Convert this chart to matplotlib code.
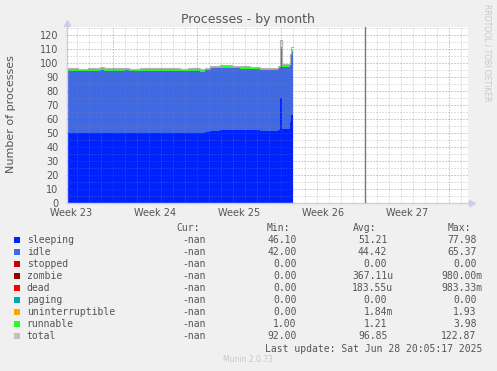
import matplotlib
matplotlib.use("Agg")
import matplotlib.pyplot as plt
from matplotlib.patches import Rectangle

# ---------------- data (x in days from left edge of graph) ----------------
days = [0.00, 0.50, 0.92, 1.75, 2.75, 3.08, 4.00, 4.83, 5.17, 6.08, 6.92, 7.42,
        8.58, 9.42, 10.08, 10.58, 11.08, 11.50, 11.92, 12.75, 13.75, 14.42,
        15.25, 16.08, 16.92, 17.58, 17.75, 17.92, 18.58, 18.67]
end_day = 18.83
sleeping = [49.8, 50.0, 49.8, 49.9, 50.1, 49.8, 49.9, 50.0, 49.8, 49.9, 49.8, 49.9,
            49.8, 50.0, 49.9, 49.8, 49.8, 51.0, 51.2, 52.1, 52.3, 52.0,
            52.0, 51.8, 51.2, 52.0, 75.0, 53.0, 58.0, 63.0]
idle = [44.7, 44.8, 44.7, 44.6, 44.9, 44.7, 44.6, 44.9, 44.6, 44.7, 44.9, 44.6,
        44.7, 44.6, 44.8, 44.7, 44.3, 44.0, 45.3, 44.6, 44.5, 44.2,
        43.8, 43.6, 44.0, 44.5, 35.0, 44.0, 47.0, 45.0]
runnable = [1.2, 1.4, 1.2, 1.2, 1.6, 1.2, 1.1, 1.3, 1.2, 1.2, 1.3, 1.2,
            1.2, 1.1, 1.3, 1.2, 1.1, 1.2, 1.4, 1.3, 1.2, 1.2,
            1.2, 1.1, 1.2, 1.3, 1.5, 1.5, 1.3, 1.3]
total = [96.3, 96.8, 96.2, 96.4, 97.2, 96.3, 96.3, 96.8, 96.2, 96.4, 96.7, 96.3,
         96.4, 96.2, 96.7, 96.4, 95.9, 96.7, 98.2, 98.5, 98.3, 97.8,
         97.3, 96.9, 96.9, 98.2, 117.0, 99.2, 107.0, 111.5]

week_labels = ["Week 23", "Week 24", "Week 25", "Week 26", "Week 27"]
week_label_pos = [0.37, 7.37, 14.37, 21.37, 28.37]
week_bounds = [3.87, 10.87, 17.87, 24.87, 31.87]
now_line = 24.87

series_names = ["sleeping", "idle", "stopped", "zombie", "dead", "paging",
                "uninterruptible", "runnable", "total"]
series_colors = ["#0022ff", "#4169e1", "#cc0000", "#990000", "#ff0000", "#00aaaa",
                 "#ffa500", "#22ff22", "#c0c0c0"]
cur_vals = ["-nan"] * 9
min_vals = ["46.10", "42.00", "0.00", "0.00", "0.00", "0.00", "0.00", "1.00", "92.00"]
avg_vals = ["51.21", "44.42", "0.00", "367.11u", "183.55u", "0.00", "1.84m", "1.21", "96.85"]
max_vals = ["77.98", "65.37", "0.00", "980.00m", "983.33m", "0.00", "1.93", "3.98", "122.87"]

# ---------------- figure ----------------
W, H = 497, 371
fig = plt.figure(figsize=(W / 100, H / 100), dpi=100, facecolor="#f0f0f0")

def fx(x):
    return x / W

def fy(y):
    return 1 - y / H

ax_l, ax_r, ax_t, ax_b = 67, 468, 26.7, 203
ax = fig.add_axes([fx(ax_l), fy(ax_b), fx(ax_r - ax_l), (ax_b - ax_t) / H])
ax.set_facecolor("white")
xmax = (ax_r - ax_l) / 12.0
ax.set_xlim(0, xmax)
ax.set_ylim(0, 126.2)

xs = days + [end_day]
def ext(v):
    return v + [v[-1]]

s1 = ext(sleeping)
s2 = [a + b for a, b in zip(s1, ext(idle))]
s3 = [a + b for a, b in zip(s2, ext(runnable))]
ax.fill_between(xs, 0, s1, step="post", color=series_colors[0], lw=0, zorder=1)
ax.fill_between(xs, s1, s2, step="post", color=series_colors[1], lw=0, zorder=1)
ax.fill_between(xs, s2, s3, step="post", color=series_colors[7], lw=0, zorder=1)
ax.step(xs, ext(total), where="post", color="#b4b4b4", lw=0.8, zorder=1.5)

# grid
ax.set_yticks(range(0, 121, 10))
ax.set_yticks(range(5, 126, 10), minor=True)
ax.set_xticks(week_bounds)
ax.set_xticklabels([""] * len(week_bounds))
first_day = week_bounds[0] % 1.0
minor_days = [first_day + k for k in range(0, 34)
              if first_day + k < xmax and all(abs(first_day + k - b) > 0.1 for b in week_bounds)]
ax.set_xticks(minor_days, minor=True)
ax.set_axisbelow(False)
ax.grid(which="major", axis="both", color="#ff2020", alpha=0.6, linestyle=(0, (1, 2)), lw=0.72)
ax.grid(which="minor", axis="both", color="#8a8a8a", alpha=0.5, linestyle=(0, (1, 2)), lw=0.72)
ax.axvline(now_line, color="#777777", lw=1.0, zorder=3)

ax.tick_params(which="both", length=0)
ax.tick_params(axis="y", labelsize=7, labelcolor="#555555", pad=6)
ax.tick_params(axis="x", labelsize=7, labelcolor="#555555", pad=3)
for p, lab in zip(week_label_pos, week_labels):
    xpix = ax_l + p * 12.0
    fig.text(fx(xpix), fy(212.8), lab, ha="center", va="center", fontsize=7, color="#555555")

for sp in ["top", "right"]:
    ax.spines[sp].set_visible(False)
for sp in ["left", "bottom"]:
    ax.spines[sp].set_color("#ccccee")
    ax.spines[sp].set_linewidth(1.0)
ax.plot([0], [1.02], marker="^", ms=4, color="#ccccee", transform=ax.transAxes, clip_on=False)
ax.plot([1.01], [0], marker=">", ms=4, color="#ccccee", transform=ax.transAxes, clip_on=False)

# title and labels
fig.text(fx(248), fy(19.5), "Processes - by month", ha="center", va="center",
         fontsize=9, color="#555555")
fig.text(fx(11), fy(114), "Number of processes", ha="center", va="center",
         rotation=90, fontsize=8, color="#555555")
fig.text(fx(487), fy(53), "RRDTOOL / TOBI OETIKER", ha="center", va="center",
         rotation=270, fontsize=5.5, color="#c8c8c8")

# legend
mono = "DejaVu Sans Mono"
lc = "#555555"
cw = 5.83
hdr_base = 230.7
fig.text(fx(176), fy(hdr_base), "Cur:", ha="left", va="baseline", fontsize=7, family=mono, color=lc)
fig.text(fx(266.7), fy(hdr_base), "Min:", ha="left", va="baseline", fontsize=7, family=mono, color=lc)
fig.text(fx(353.3), fy(hdr_base), "Avg:", ha="left", va="baseline", fontsize=7, family=mono, color=lc)
fig.text(fx(447.3), fy(hdr_base), "Max:", ha="left", va="baseline", fontsize=7, family=mono, color=lc)

def put_val(r_edge, s, base):
    x = r_edge if s[-1] in "um" else r_edge - cw
    fig.text(fx(x), fy(base), s, ha="right", va="baseline", fontsize=7, family=mono, color=lc)

for i, name in enumerate(series_names):
    base = 243 + 12 * i
    fig.patches.append(Rectangle((fx(14), fy(base)), 6 / W, 6 / H, transform=fig.transFigure,
                                 facecolor=series_colors[i], edgecolor="none"))
    fig.text(fx(26.7), fy(base), name, ha="left", va="baseline", fontsize=7, family=mono, color=lc)
    put_val(211.5, cur_vals[i], base)
    put_val(302.5, min_vals[i], base)
    put_val(393.2, avg_vals[i], base)
    put_val(482.4, max_vals[i], base)

fig.text(fx(482), fy(351.5), "Last update: Sat Jun 28 20:05:17 2025", ha="right", va="baseline",
         fontsize=7, family=mono, color=lc)
fig.text(fx(248), fy(362.5), "Munin 2.0.73", ha="center", va="baseline", fontsize=5.5, color="#c8c8c8")

fig.savefig("out.png", dpi=100, facecolor=fig.get_facecolor())
